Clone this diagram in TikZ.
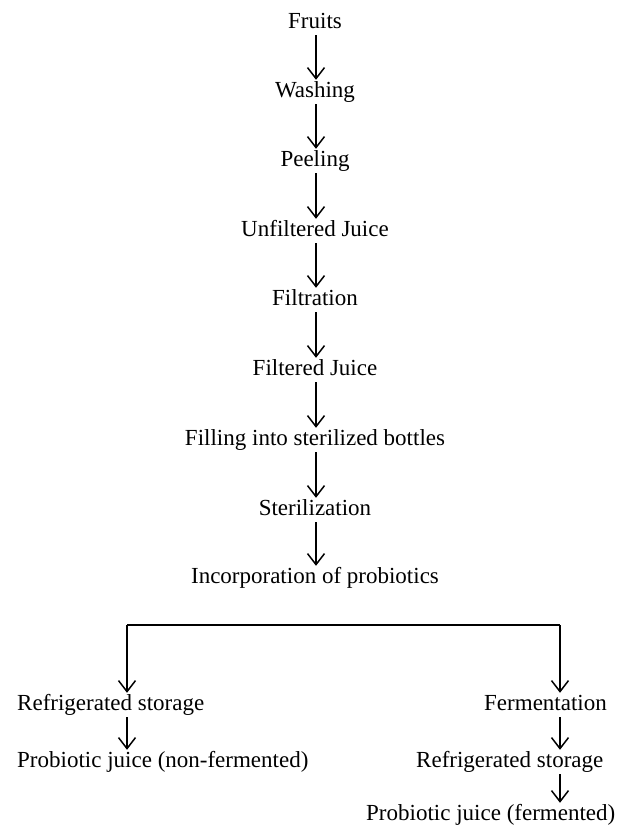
\documentclass[tikz,border=0pt]{standalone}
\usepackage{fontspec}
\setmainfont{Liberation Serif}
\usetikzlibrary{arrows.meta}
\begin{document}
\begin{tikzpicture}[x=1pt,y=-1pt,
  lbl/.style={inner sep=0pt, text height=15pt, text depth=5pt, font=\fontsize{23}{27}\selectfont},
  mid/.style={lbl, anchor=base},
  lft/.style={lbl, anchor=base west},
  arr/.style={line width=1.5pt, -{Straight Barb[length=11pt,width=17pt,line width=1.5pt]}, shorten <=2pt, shorten >=2pt},
  ln/.style={line width=1.5pt}]
\useasboundingbox (0,0) rectangle (626,827);
\node[mid] (n1) at (315,28) {Fruits};
\node[mid] (n2) at (315,97) {Washing};
\node[mid] (n3) at (315,166) {Peeling};
\node[mid] (n4) at (315,236) {Unfiltered Juice};
\node[mid] (n5) at (315,305) {Filtration};
\node[mid] (n6) at (315,375) {Filtered Juice};
\node[mid] (n7) at (315,445) {Filling into sterilized bottles};
\node[mid] (n8) at (315,515) {Sterilization};
\node[mid] (n9) at (315,583) {Incorporation of probiotics};
\foreach \a/\b in {n1/n2,n2/n3,n3/n4,n4/n5,n5/n6,n6/n7,n7/n8,n8/n9}
  \draw[arr] ([xshift=1pt]\a.south) -- ([xshift=1pt]\b.north);
\coordinate (L) at (127,625);
\coordinate (R) at (560,625);
\node[lft] (l1) at (17,710) {Refrigerated storage};
\node[lft] (l2) at (17,767) {Probiotic juice (non-fermented)};
\node[lft] (r1) at (484,710) {Fermentation};
\node[lft] (r2) at (416,767) {Refrigerated storage};
\node[lft] (r3) at (366,820) {Probiotic juice (fermented)};
\draw[ln] (L) -- (R);
\draw[arr, shorten <=0pt] (L) -- (L |- l1.north);
\draw[arr, shorten <=0pt] (R) -- (R |- r1.north);
\draw[arr] (l1.south -| L) -- (l2.north -| L);
\draw[arr] (r1.south -| R) -- (r2.north -| R);
\draw[arr] (r2.south -| R) -- (r3.north -| R);
\end{tikzpicture}
\end{document}
